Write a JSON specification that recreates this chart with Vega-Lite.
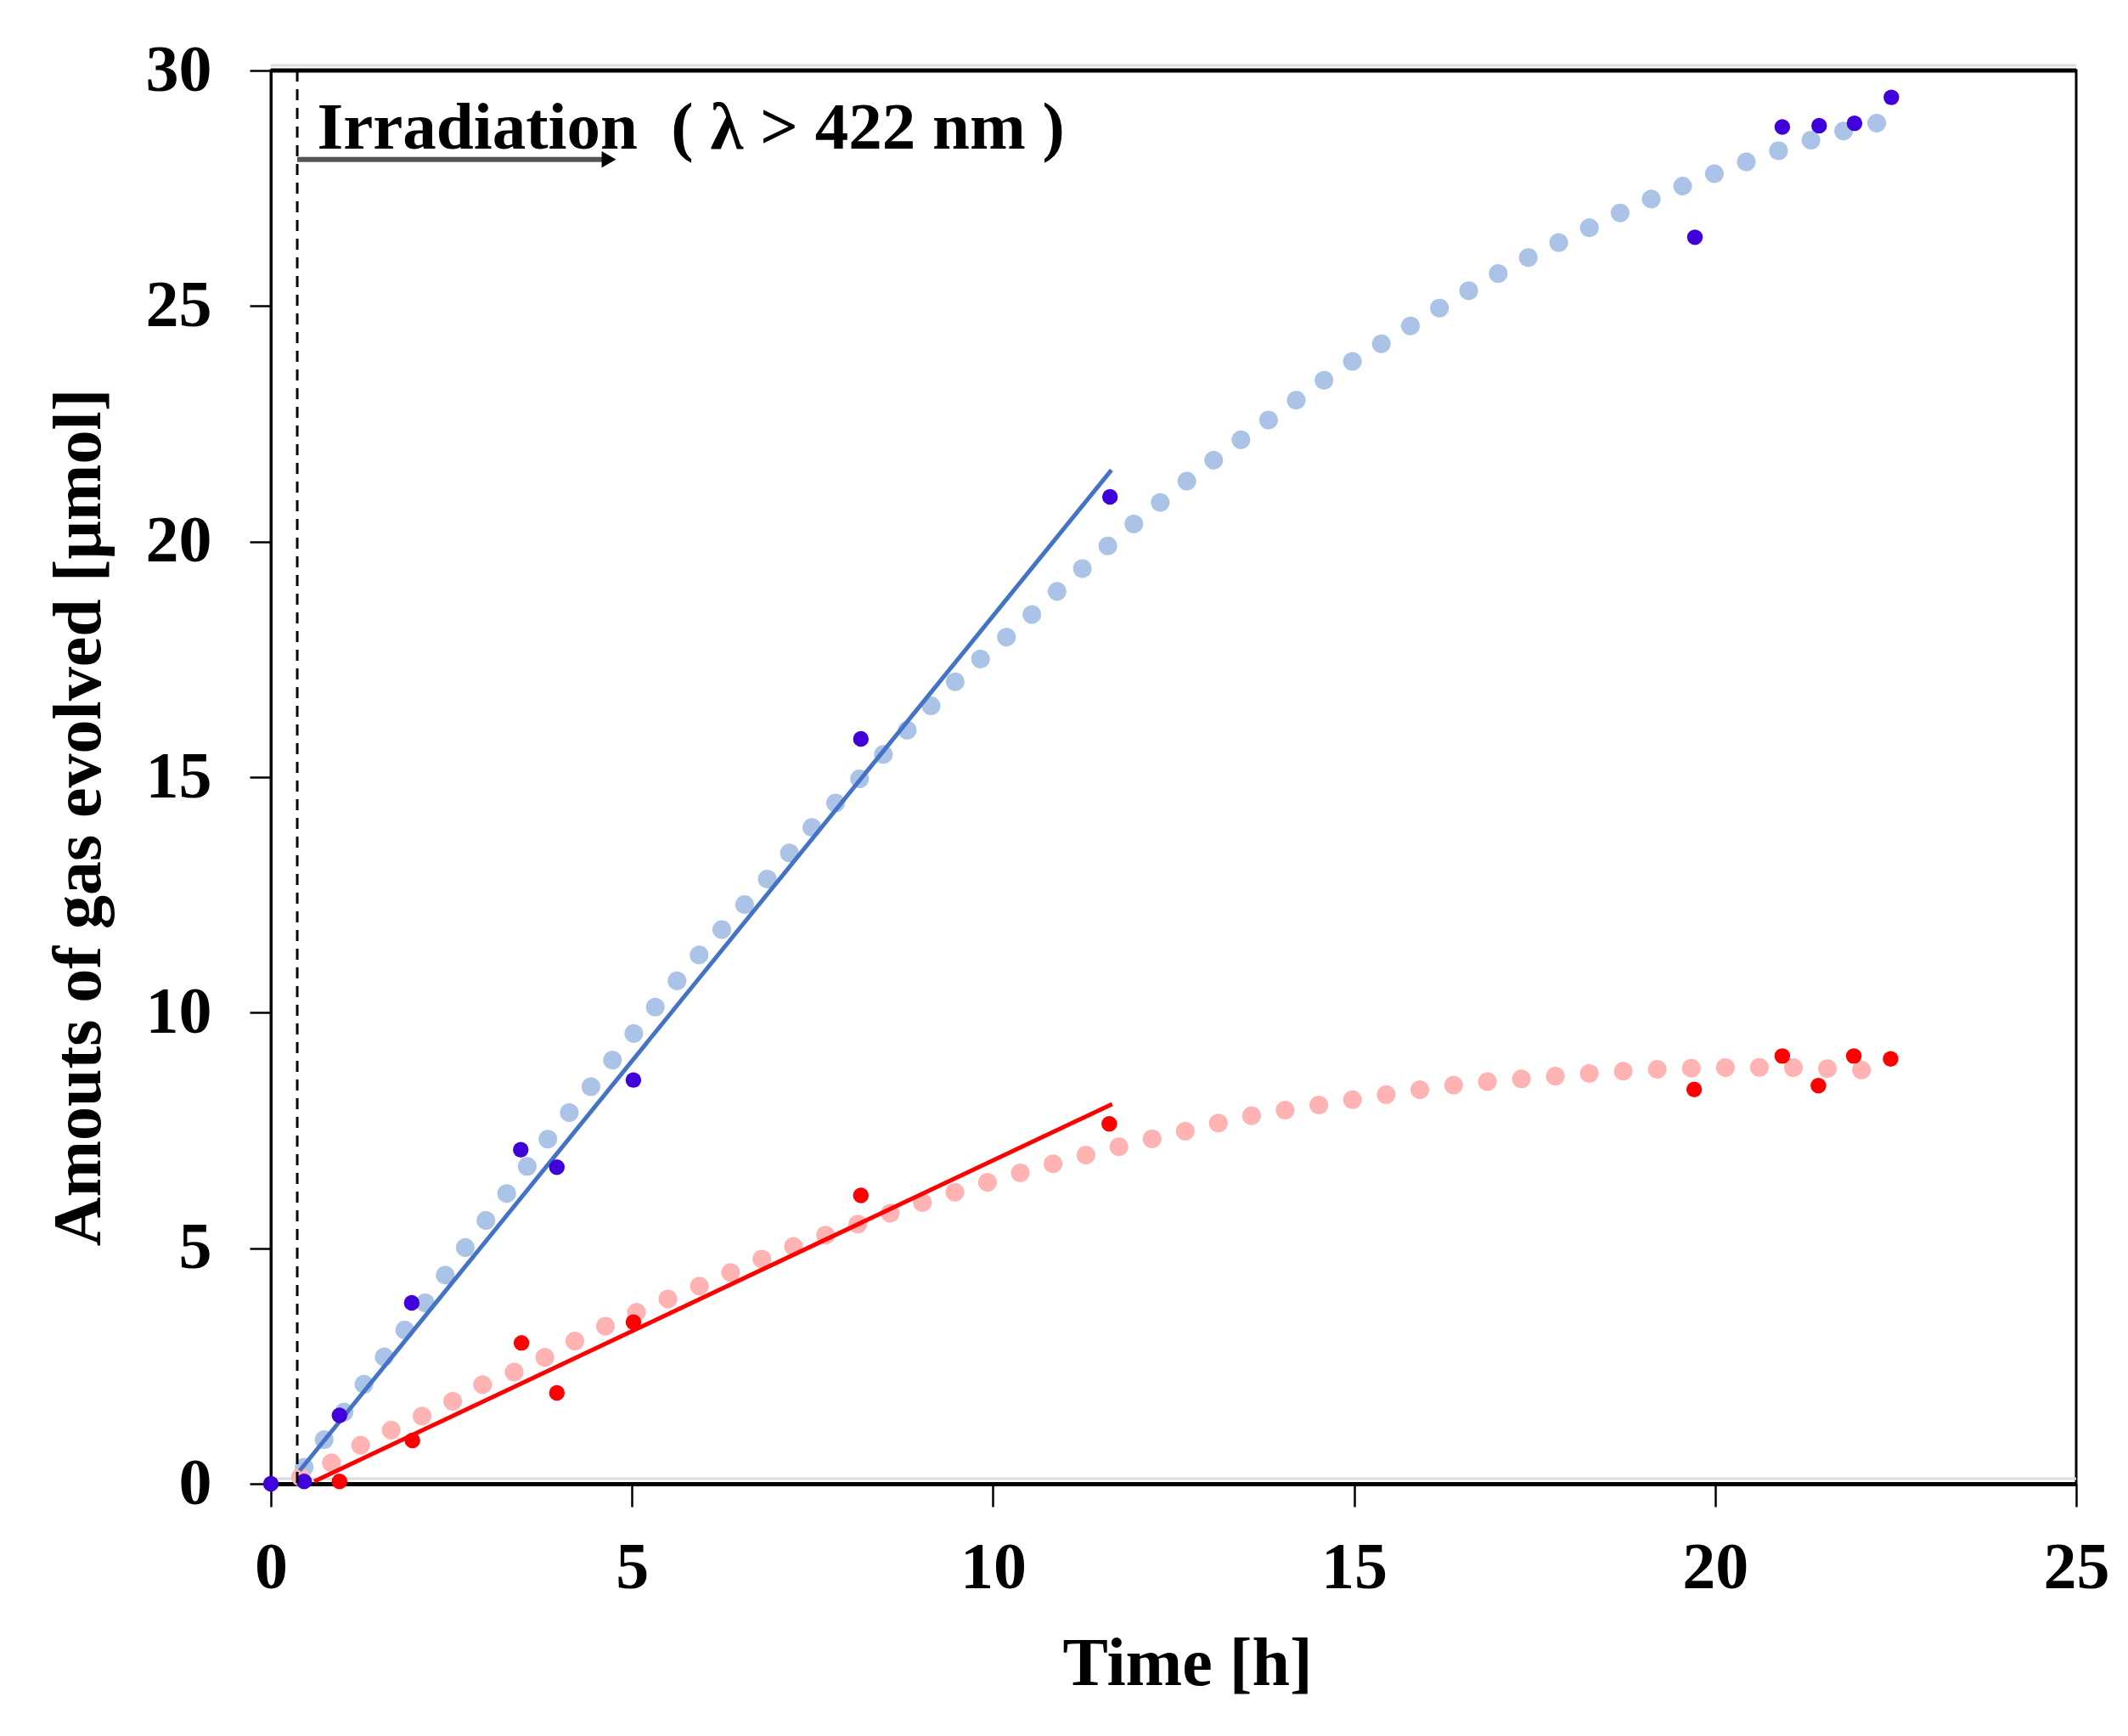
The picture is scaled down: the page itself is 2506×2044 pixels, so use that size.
{
  "$schema": "https://vega.github.io/schema/vega-lite/v6.json",
  "width": 2126,
  "height": 1664,
  "autosize": "none",
  "padding": {"left": 319, "top": 83, "right": 61, "bottom": 297},
  "background": "white",
  "config": {
    "view": {"stroke": "black", "strokeWidth": 3},
    "axis": {
      "grid": false,
      "domainColor": "black",
      "tickColor": "black",
      "tickWidth": 2.5,
      "labelColor": "black",
      "titleColor": "black",
      "labelFont": "Liberation Serif",
      "labelFontWeight": "bold",
      "labelFontSize": 78,
      "titleFont": "Liberation Serif",
      "titleFontWeight": "bold",
      "titleFontSize": 80,
      "labelFlush": false,
      "labelOverlap": false,
      "tickCount": 6
    },
    "axisX": {
      "domainWidth": 5,
      "tickSize": 27,
      "labelPadding": 33,
      "titleBaseline": "alphabetic",
      "titleY": 236,
      "titleX": 1079,
      "titleAlign": "center",
      "zindex": 1
    },
    "axisY": {
      "domainWidth": 3,
      "tickSize": 25,
      "labelPadding": 45,
      "titleAngle": 270,
      "titleBaseline": "alphabetic",
      "titleAlign": "center",
      "titleX": -202,
      "titleY": 879
    }
  },
  "datasets": {
    "one": [{"k": 1}],
    "bfit": [
      {"t": 0.46, "v": 0.35}, {"t": 0.84, "v": 1.15}, {"t": 1.46, "v": 2.47}, {"t": 2.08, "v": 3.72},
      {"t": 2.69, "v": 5.01}, {"t": 3.31, "v": 6.25}, {"t": 3.9, "v": 7.44}, {"t": 4.55, "v": 8.65},
      {"t": 5.18, "v": 9.85}, {"t": 5.82, "v": 11.03}, {"t": 6.83, "v": 12.76}, {"t": 7.46, "v": 13.88},
      {"t": 8.13, "v": 14.93}, {"t": 8.84, "v": 16.04}, {"t": 9.57, "v": 17.16}, {"t": 10.29, "v": 18.11},
      {"t": 10.98, "v": 19.07}, {"t": 11.69, "v": 20.04}, {"t": 12.47, "v": 21.02}, {"t": 13.22, "v": 21.92},
      {"t": 13.99, "v": 22.77}, {"t": 14.76, "v": 23.61}, {"t": 15.56, "v": 24.37}, {"t": 16.36, "v": 25.12},
      {"t": 17.2, "v": 25.86}, {"t": 18.04, "v": 26.5}, {"t": 18.86, "v": 27.1}, {"t": 19.72, "v": 27.65},
      {"t": 20.6, "v": 28.15}, {"t": 21.5, "v": 28.6}, {"t": 22.46, "v": 28.96}
    ],
    "rfit": [
      {"t": 0.41, "v": 0.14}, {"t": 0.82, "v": 0.43}, {"t": 1.21, "v": 0.79}, {"t": 1.6, "v": 1.09},
      {"t": 2.03, "v": 1.39}, {"t": 2.48, "v": 1.72}, {"t": 2.9, "v": 2.08}, {"t": 3.35, "v": 2.36},
      {"t": 3.79, "v": 2.68}, {"t": 4.21, "v": 3.03}, {"t": 5.06, "v": 3.64}, {"t": 5.94, "v": 4.2},
      {"t": 7.14, "v": 4.98}, {"t": 8.03, "v": 5.46}, {"t": 8.92, "v": 5.92}, {"t": 9.84, "v": 6.36},
      {"t": 10.73, "v": 6.75}, {"t": 11.68, "v": 7.13}, {"t": 12.62, "v": 7.47}, {"t": 13.54, "v": 7.8},
      {"t": 14.51, "v": 8.04}, {"t": 15.53, "v": 8.28}, {"t": 16.54, "v": 8.49}, {"t": 17.53, "v": 8.62},
      {"t": 18.54, "v": 8.74}, {"t": 19.61, "v": 8.82}, {"t": 20.7, "v": 8.84}, {"t": 21.77, "v": 8.8},
      {"t": 22.31, "v": 8.76}
    ],
    "bpts": [
      {"t": 0, "v": 0}, {"t": 0.46, "v": 0.05}, {"t": 0.95, "v": 1.45}, {"t": 1.95, "v": 3.84},
      {"t": 3.46, "v": 7.09}, {"t": 3.96, "v": 6.72}, {"t": 5.02, "v": 8.57}, {"t": 8.17, "v": 15.81},
      {"t": 11.62, "v": 20.95}, {"t": 19.72, "v": 26.46}, {"t": 20.93, "v": 28.8}, {"t": 21.44, "v": 28.83},
      {"t": 21.93, "v": 28.88}, {"t": 22.44, "v": 29.43}
    ],
    "rpts": [
      {"t": 0.95, "v": 0.05}, {"t": 1.96, "v": 0.92}, {"t": 3.47, "v": 2.99}, {"t": 3.96, "v": 1.93},
      {"t": 5.02, "v": 3.43}, {"t": 8.17, "v": 6.12}, {"t": 11.61, "v": 7.64}, {"t": 19.71, "v": 8.37},
      {"t": 20.93, "v": 9.08}, {"t": 21.43, "v": 8.45}, {"t": 21.92, "v": 9.08}, {"t": 22.43, "v": 9.02}
    ],
    "blin": [{"t": 0.4, "v": 0.28}, {"t": 11.64, "v": 21.52}],
    "rlin": [{"t": 0.6, "v": 0.05}, {"t": 11.65, "v": 8.06}]
  },
  "layer": [
    {
      "data": {"name": "one"},
      "mark": {"type": "rule", "color": "#dcdcdc", "strokeWidth": 3, "yOffset": -6},
      "encoding": {"y": {"datum": 0, "scale": {"domain": [0, 30], "nice": false}}}
    },
    {
      "data": {"name": "bfit"},
      "mark": {"type": "line", "color": "#abc3e6", "strokeWidth": 22, "strokeCap": "round", "strokeDash": [0.1, 40], "interpolate": "monotone"},
      "encoding": {
        "x": {"field": "t", "type": "quantitative", "title": "Time [h]", "scale": {"domain": [0, 25], "nice": false}},
        "y": {"field": "v", "type": "quantitative", "title": "Amouts of gas evolved [μmol]", "scale": {"domain": [0, 30], "nice": false}}
      }
    },
    {
      "data": {"name": "rfit"},
      "mark": {"type": "line", "color": "#ffb3b3", "strokeWidth": 22, "strokeCap": "round", "strokeDash": [0.1, 40], "interpolate": "monotone"},
      "encoding": {
        "x": {"field": "t", "type": "quantitative", "title": "Time [h]", "scale": {"domain": [0, 25], "nice": false}},
        "y": {"field": "v", "type": "quantitative", "title": "Amouts of gas evolved [μmol]", "scale": {"domain": [0, 30], "nice": false}}
      }
    },
    {
      "data": {"name": "blin"},
      "mark": {"type": "line", "color": "#4472c4", "strokeWidth": 5},
      "encoding": {
        "x": {"field": "t", "type": "quantitative", "title": "Time [h]", "scale": {"domain": [0, 25], "nice": false}},
        "y": {"field": "v", "type": "quantitative", "title": "Amouts of gas evolved [μmol]", "scale": {"domain": [0, 30], "nice": false}}
      }
    },
    {
      "data": {"name": "rlin"},
      "mark": {"type": "line", "color": "#ff0000", "strokeWidth": 5},
      "encoding": {
        "x": {"field": "t", "type": "quantitative", "title": "Time [h]", "scale": {"domain": [0, 25], "nice": false}},
        "y": {"field": "v", "type": "quantitative", "title": "Amouts of gas evolved [μmol]", "scale": {"domain": [0, 30], "nice": false}}
      }
    },
    {
      "data": {"name": "bpts"},
      "mark": {"type": "point", "shape": "circle", "filled": true, "opacity": 1, "color": "#4000dc", "size": 340},
      "encoding": {
        "x": {"field": "t", "type": "quantitative", "title": "Time [h]", "scale": {"domain": [0, 25], "nice": false}},
        "y": {"field": "v", "type": "quantitative", "title": "Amouts of gas evolved [μmol]", "scale": {"domain": [0, 30], "nice": false}}
      }
    },
    {
      "data": {"name": "rpts"},
      "mark": {"type": "point", "shape": "circle", "filled": true, "opacity": 1, "color": "#ff0000", "size": 340},
      "encoding": {
        "x": {"field": "t", "type": "quantitative", "title": "Time [h]", "scale": {"domain": [0, 25], "nice": false}},
        "y": {"field": "v", "type": "quantitative", "title": "Amouts of gas evolved [μmol]", "scale": {"domain": [0, 30], "nice": false}}
      }
    },
    {
      "data": {"name": "one"},
      "mark": {"type": "rule", "color": "black", "strokeWidth": 3, "strokeDash": [13, 9]},
      "encoding": {"x": {"datum": 0.365, "scale": {"domain": [0, 25], "nice": false}}}
    },
    {
      "data": {"name": "one"},
      "mark": {"type": "rule", "color": "#555555", "strokeWidth": 6},
      "encoding": {"x": {"datum": 0.365}, "x2": {"datum": 4.62}, "y": {"datum": 28.11}}
    },
    {
      "data": {"name": "one"},
      "mark": {"type": "point", "shape": "triangle-right", "filled": true, "opacity": 1, "color": "black", "size": 380},
      "encoding": {"x": {"datum": 4.68}, "y": {"datum": 28.11}}
    },
    {
      "data": {"name": "one"},
      "mark": {"type": "text", "text": "Irradiation\u00a0\u00a0( λ > 422 nm )", "align": "left", "baseline": "alphabetic", "font": "Liberation Serif", "fontWeight": "bold", "fontSize": 79, "color": "black"},
      "encoding": {"x": {"datum": 0.64}, "y": {"datum": 28.35}}
    },
    {
      "data": {"name": "one"},
      "mark": {"type": "rule", "color": "#dcdcdc", "strokeWidth": 3, "yOffset": -6},
      "encoding": {"y": {"datum": 30}}
    },
    {
      "data": {"name": "one"},
      "mark": {"type": "rule", "color": "black", "strokeWidth": 5},
      "encoding": {"y": {"datum": 30}}
    }
  ]
}
